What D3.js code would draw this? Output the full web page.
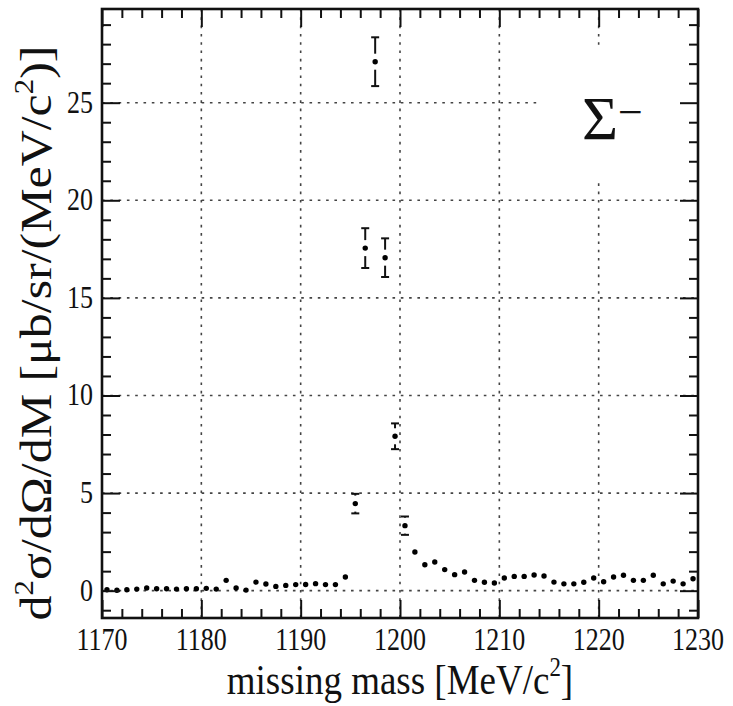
<!DOCTYPE html>
<html>
<head>
<meta charset="utf-8">
<script src="https://cdn.jsdelivr.net/npm/d3@7"></script>
<style>
  body { margin: 0; background: #fff; }
  svg text { font-family: "Liberation Serif", "Times New Roman", serif; fill: #111; }
</style>
</head>
<body>
<svg id="chart" width="733" height="706"></svg>
<script>
// Missing-mass spectrum, 1 MeV bins (bin centres)
const massBins = [
  1170.5, 1171.5, 1172.5, 1173.5, 1174.5, 1175.5, 1176.5, 1177.5, 1178.5, 1179.5,
  1180.5, 1181.5, 1182.5, 1183.5, 1184.5, 1185.5, 1186.5, 1187.5, 1188.5, 1189.5,
  1190.5, 1191.5, 1192.5, 1193.5, 1194.5, 1195.5, 1196.5, 1197.5, 1198.5, 1199.5,
  1200.5, 1201.5, 1202.5, 1203.5, 1204.5, 1205.5, 1206.5, 1207.5, 1208.5, 1209.5,
  1210.5, 1211.5, 1212.5, 1213.5, 1214.5, 1215.5, 1216.5, 1217.5, 1218.5, 1219.5,
  1220.5, 1221.5, 1222.5, 1223.5, 1224.5, 1225.5, 1226.5, 1227.5, 1228.5, 1229.5
];
// d2sigma/dOmega/dM in ub/sr/(MeV/c^2)
const crossSection = [
  0.05, 0.02, 0.05, 0.08, 0.14, 0.10, 0.10, 0.08, 0.10, 0.10,
  0.12, 0.08, 0.53, 0.14, 0.03, 0.44, 0.34, 0.22, 0.27, 0.31,
  0.32, 0.36, 0.31, 0.31, 0.70, 4.46, 17.55, 27.10, 17.06, 7.91,
  3.33, 1.98, 1.33, 1.47, 1.08, 0.82, 0.96, 0.53, 0.43, 0.39,
  0.65, 0.73, 0.73, 0.80, 0.75, 0.44, 0.35, 0.35, 0.43, 0.65,
  0.46, 0.70, 0.79, 0.53, 0.53, 0.79, 0.35, 0.49, 0.35, 0.61
];
// statistical errors
const crossSectionErr = [
  0.08, 0.06, 0.08, 0.09, 0.10, 0.10, 0.10, 0.09, 0.10, 0.10,
  0.10, 0.09, 0.16, 0.10, 0.07, 0.14, 0.13, 0.11, 0.12, 0.13,
  0.13, 0.13, 0.13, 0.13, 0.18, 0.50, 1.02, 1.25, 0.99, 0.66,
  0.47, 0.34, 0.28, 0.30, 0.25, 0.22, 0.24, 0.17, 0.15, 0.15,
  0.19, 0.20, 0.20, 0.21, 0.20, 0.15, 0.14, 0.14, 0.15, 0.19,
  0.16, 0.20, 0.21, 0.17, 0.17, 0.21, 0.14, 0.16, 0.14, 0.18
];
const xMajorTicks = [1170, 1180, 1190, 1200, 1210, 1220, 1230];
const yMajorTicks = [0, 5, 10, 15, 20, 25];
const xGridValues = [1180, 1190, 1200, 1210, 1220];
const yGridValues = [0, 5, 10, 15, 20, 25];
const xTitle = ["missing mass [MeV/c", "2", "]"];
const yTitle = ["d", "2", "σ/dΩ/dM [μb/sr/(MeV/c", "2", ")]"];
const particle = ["Σ", "−"];

const serif = "Liberation Serif, Times New Roman, serif";
const svg = d3.select("#chart");
const frame = { left: 102, top: 9, right: 698, bottom: 618 };

const x = d3.scaleLinear().domain([1170, 1230]).range([frame.left, frame.right]);
const y = d3.scaleLinear().domain([-1.4, 29.8]).range([frame.bottom, frame.top]);

const xMinor = d3.range(1170, 1230.01, 2).filter(v => !xMajorTicks.includes(v));
const yMinor = d3.range(-1, 29.01, 1).filter(v => !yMajorTicks.includes(v));

// dotted grid
const grid = svg.append("g")
  .attr("stroke", "#444").attr("stroke-width", 1.6)
  .attr("stroke-dasharray", "2.6,5.7");
grid.selectAll("line.gx").data(xGridValues).join("line")
  .attr("x1", d => x(d)).attr("x2", d => x(d))
  .attr("y1", frame.top).attr("y2", frame.bottom);
grid.selectAll("line.gy").data(yGridValues).join("line")
  .attr("x1", frame.left).attr("x2", frame.right)
  .attr("y1", d => y(d)).attr("y2", d => y(d));

// blank panel behind the particle label
svg.append("rect")
  .attr("x", 540).attr("y", 48).attr("width", 156).attr("height", 135)
  .attr("fill", "#fff");

// data points with error bars (bars hidden inside the marker gap)
const gap = 8, cap = 4;
const pts = svg.append("g");
massBins.forEach((m, i) => {
  const cx = x(m), cy = y(crossSection[i]);
  const hi = y(crossSection[i] + crossSectionErr[i]);
  const lo = y(crossSection[i] - crossSectionErr[i]);
  if (cy - hi > gap) {
    pts.append("line").attr("x1", cx).attr("x2", cx).attr("y1", hi).attr("y2", cy - gap)
      .attr("stroke", "#111").attr("stroke-width", 2);
    pts.append("line").attr("x1", cx - cap).attr("x2", cx + cap).attr("y1", hi).attr("y2", hi)
      .attr("stroke", "#111").attr("stroke-width", 2);
    pts.append("line").attr("x1", cx).attr("x2", cx).attr("y1", cy + gap).attr("y2", lo)
      .attr("stroke", "#111").attr("stroke-width", 2);
    pts.append("line").attr("x1", cx - cap).attr("x2", cx + cap).attr("y1", lo).attr("y2", lo)
      .attr("stroke", "#111").attr("stroke-width", 2);
  }
  pts.append("circle").attr("cx", cx).attr("cy", cy).attr("r", 2.7).attr("fill", "#000");
});

// axes: inward ticks on all four sides
function tickAxis(axisFn, scale, values, size, transform) {
  const g = svg.append("g").attr("transform", transform)
    .call(axisFn(scale).tickValues(values).tickSize(-size).tickFormat(""));
  g.select(".domain").remove();
  g.selectAll(".tick line").attr("stroke", "#111").attr("stroke-width", 2);
}
tickAxis(d3.axisBottom, x, xMajorTicks, 18, `translate(0,${frame.bottom})`);
tickAxis(d3.axisBottom, x, xMinor, 9, `translate(0,${frame.bottom})`);
tickAxis(d3.axisTop, x, xMajorTicks, 18, `translate(0,${frame.top})`);
tickAxis(d3.axisTop, x, xMinor, 9, `translate(0,${frame.top})`);
tickAxis(d3.axisLeft, y, yMajorTicks, 18, `translate(${frame.left},0)`);
tickAxis(d3.axisLeft, y, yMinor, 9, `translate(${frame.left},0)`);
tickAxis(d3.axisRight, y, yMajorTicks, 18, `translate(${frame.right},0)`);
tickAxis(d3.axisRight, y, yMinor, 9, `translate(${frame.right},0)`);

svg.append("rect")
  .attr("x", frame.left).attr("y", frame.top)
  .attr("width", frame.right - frame.left).attr("height", frame.bottom - frame.top)
  .attr("fill", "none").attr("stroke", "#111").attr("stroke-width", 2.6);

// tick labels
const xLab = svg.append("g");
xMajorTicks.forEach(v => {
  xLab.append("text")
    .attr("transform", `translate(${x(v)},650) scale(1,1.18)`)
    .attr("font-family", serif)
    .attr("text-anchor", "middle").attr("font-size", 26).text(v);
});
const yLab = svg.append("g");
yMajorTicks.forEach(v => {
  yLab.append("text")
    .attr("transform", `translate(93,${y(v) + 10}) scale(1,1.18)`)
    .attr("font-family", serif)
    .attr("text-anchor", "end").attr("font-size", 26).text(v);
});

// builds text with superscript parts (odd indices)
function richText(sel, parts, size) {
  parts.forEach((p, i) => {
    const sup = i % 2 === 1;
    sel.append("tspan")
      .attr("font-size", sup ? size * 0.62 : size)
      .attr("dy", sup ? -size * 0.42 : (i > 0 ? size * 0.42 : 0))
      .text(p);
  });
}

// x title
const xt = svg.append("text").attr("text-anchor", "middle")
  .attr("font-family", serif)
  .attr("transform", "translate(400,694) scale(1,1.15)");
richText(xt, xTitle, 37);

// y title: rotated, stretched along its length
const yt = svg.append("text").attr("text-anchor", "middle").attr("font-family", serif);
richText(yt, yTitle, 44);
const yLen = yt.node().getComputedTextLength();
yt.attr("transform", `translate(51,333) rotate(-90) scale(${575 / yLen},1)`);

// particle label
const pl = svg.append("text").attr("font-family", serif)
  .attr("transform", "translate(582,139)");
pl.append("tspan").attr("font-size", 62).text(particle[0]);
pl.append("tspan").attr("font-size", 44).attr("dy", -12).text(particle[1]);
</script>
</body>
</html>
